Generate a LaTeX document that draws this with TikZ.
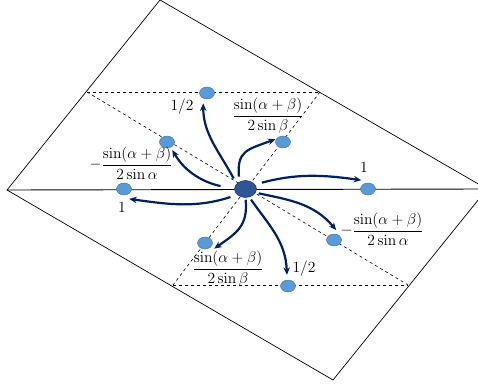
\RequirePackage{fix-cm}
\documentclass[tikz,border=0pt]{standalone}
\usepackage{amsmath}
\usepackage{tikz}
\usetikzlibrary{arrows.meta, shapes.geometric}
\definecolor{dotFill}{HTML}{5B9BD5}
\definecolor{dotLine}{HTML}{41719C}
\definecolor{hubFill}{HTML}{2F5597}
\definecolor{hubLine}{HTML}{203864}
\definecolor{flowColor}{HTML}{002060}

\begin{document}
\begin{tikzpicture}[x=1pt, y=1pt,
    dot/.style={ellipse, fill=dotFill, draw=dotLine, line width=0.4pt,
        minimum width=15pt, minimum height=12pt, inner sep=0pt},
    hub/.style={ellipse, fill=hubFill, draw=hubLine, line width=0.5pt,
        minimum width=22pt, minimum height=17pt, inner sep=0pt},
    flow/.style={-{Stealth[length=7.5pt,width=6.5pt]}, line width=2.2pt, flowColor},
    lbl/.style={font=\fontsize{15.5}{18}\selectfont, inner sep=1pt}]
    \clip (0,0) rectangle (478,383);
    % plane and axis
    \draw[line width=0.7pt] (7,193) -- (160,383) -- (487,194) -- (333,3) -- cycle;
    \draw[line width=0.9pt] (7,193) -- (487,194);
    \draw[dashed, line width=0.6pt] (87,291) -- (320,291);
    \draw[dashed, line width=0.6pt] (173,98) -- (408,98);
    \draw[dashed, line width=0.6pt] (87,291) -- (408,98);
    \draw[dashed, line width=0.6pt] (320,291) -- (173,98);

    \node[hub] (c) at (245.5,194) {};
    \node[dot] (ut) at (207,290) {};
    \node[dot] (ur) at (283,241) {};
    \node[dot] (rr) at (368,194) {};
    \node[dot] (lr) at (334,143) {};
    \node[dot] (bt) at (288,97) {};
    \node[dot] (ll) at (205,140) {};
    \node[dot] (lf) at (124,194) {};
    \node[dot] (ul) at (167,241) {};

    % weights
    \draw[flow, shorten <=6pt, shorten >=5pt] (c.150) to[out=118, in=270] (ut.235);
    \draw[flow, shorten <=14pt, shorten >=3pt] (c.180) to[out=168, in=300] (ul.305);
    \draw[flow, shorten <=7pt, shorten >=2pt] (c.215) to[out=198, in=352] ([yshift=-4pt]lf.300);
    \draw[flow, shorten <=5pt, shorten >=1pt] (c.130) to[out=95, in=200, looseness=1.4] (ur.155);
    \draw[flow, shorten <=7pt, shorten >=3pt] (c.25) to[out=15, in=172] ([yshift=3pt]rr.125);
    \draw[flow, shorten <=3pt] (c.340) to[out=-12, in=130] ([yshift=4pt]lr.70);
    \draw[flow, shorten <=3pt] (c.295) to[out=-55, in=92] ([yshift=5pt]bt.100);
    \draw[flow, shorten <=2pt] (c.270) to[out=-85, in=35, looseness=1.2] ([shift={(3pt,-2pt)}]ll.330);

    \node[lbl] (wUt) at (182,276) {$1/2$};
    \node[lbl] (wUr) at (268,267) {$\dfrac{\sin(\alpha+\beta)}{2\sin\beta}$};
    \node[lbl] (wUl) at (131,220) {$-\dfrac{\sin(\alpha+\beta)}{2\sin\alpha}$};
    \node[lbl] (wLf) at (122,175) {$1$};
    \node[lbl] (wRr) at (364,215) {$1$};
    \node[lbl] (wLr) at (382,154) {$-\dfrac{\sin(\alpha+\beta)}{2\sin\alpha}$};
    \node[lbl] (wLl) at (228,114) {$\dfrac{\sin(\alpha+\beta)}{2\sin\beta}$};
    \node[lbl] (wBt) at (304,114) {$1/2$};
\end{tikzpicture}
\end{document}
